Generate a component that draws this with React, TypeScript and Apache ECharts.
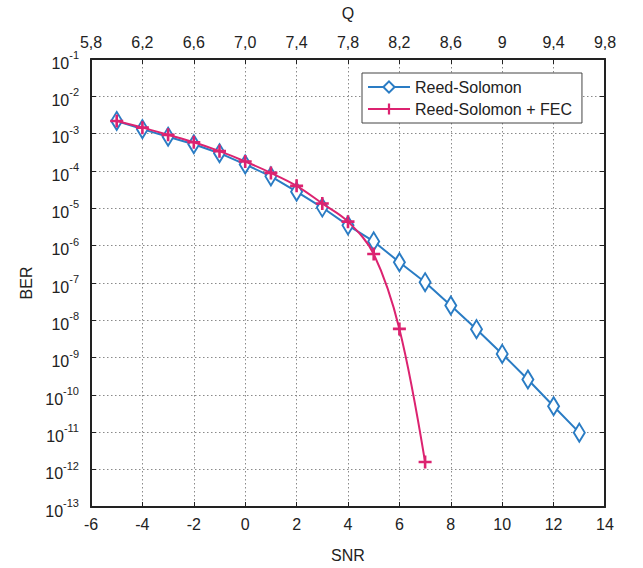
import React, { useEffect, useRef } from "react";
import * as echarts from "echarts";

// SNR values (x) for each series
const rsSnr = [-5, -4, -3, -2, -1, 0, 1, 2, 3, 4, 5, 6, 7, 8, 9, 10, 11, 12, 13];
const rsBer = [
  2.19e-3, 1.32e-3, 8.3e-4, 5.2e-4, 3.0e-4, 1.5e-4, 7.2e-5, 2.8e-5, 1.05e-5, 3.5e-6,
  1.3e-6, 3.6e-7, 1.05e-7, 2.5e-8, 5.8e-9, 1.26e-9, 2.6e-10, 5.0e-11, 9.8e-12,
];
const fecSnr = [-5, -4, -3, -2, -1, 0, 1, 2, 3, 4, 5, 6, 7];
const fecBer = [
  2.19e-3, 1.45e-3, 9.3e-4, 5.9e-4, 3.4e-4, 1.8e-4, 8.9e-5, 4.0e-5, 1.35e-5, 4.4e-6,
  6.0e-7, 5.9e-9, 1.6e-12,
];
const qLabels = ["5,8", "6,2", "6,6", "7,0", "7,4", "7,8", "8,2", "8,6", "9", "9,4", "9,8"];
const seriesNames = ["Reed-Solomon", "Reed-Solomon + FEC"];

const BLUE = "#2a7cc4";
const RED = "#dc2370";
const TEXT = "#222";
const FONT = "Liberation Sans, Arial, sans-serif";

export default function App() {
  const ref = useRef<HTMLDivElement>(null);
  useEffect(() => {
    if (!ref.current) return;
    const chart = echarts.init(ref.current, undefined, { renderer: "svg" });
    const axisLine = { show: true, onZero: false, lineStyle: { color: "#222", width: 2 } };
    const tick = { show: true, inside: true, length: 5, lineStyle: { color: "#222", width: 1 } };
    const grid = { show: true, lineStyle: { color: "#8a8a8a", type: [1.5, 2.5], width: 1 } };
    const supLabel = {
      fontFamily: FONT,
      color: TEXT,
      margin: 12,
      formatter: (v: number) => `{b|10}{s|${Math.round(Math.log10(v))}}`,
      rich: {
        b: { fontSize: 16, fontFamily: FONT, color: TEXT, padding: [8, 0, 0, 0] },
        s: { fontSize: 11, fontFamily: FONT, color: TEXT, padding: [0, 0, 8, 0] },
      },
    };
    chart.setOption({
      animation: false,
      backgroundColor: "#fff",
      textStyle: { fontFamily: FONT },
      grid: { left: 91, top: 57, width: 514, height: 451, containLabel: false },
      legend: {
        orient: "vertical",
        left: 362,
        top: 73,
        padding: [6, 10, 6, 5],
        itemGap: 6,
        itemWidth: 42,
        itemHeight: 14,
        borderColor: "#444",
        borderWidth: 1,
        backgroundColor: "#fff",
        textStyle: { fontSize: 16, color: TEXT, fontFamily: FONT },
        data: seriesNames,
      },
      xAxis: [
        {
          type: "value",
          position: "bottom",
          min: -6,
          max: 14,
          interval: 2,
          name: "SNR",
          nameLocation: "middle",
          nameGap: 40,
          nameTextStyle: { fontSize: 16, color: TEXT, fontFamily: FONT },
          axisLine,
          axisTick: tick,
          splitLine: grid,
          axisLabel: { fontSize: 16, color: TEXT, fontFamily: FONT, margin: 9 },
        },
        {
          type: "category",
          position: "top",
          boundaryGap: false,
          data: qLabels,
          name: "Q",
          nameLocation: "middle",
          nameGap: 38,
          nameTextStyle: { fontSize: 16, color: TEXT, fontFamily: FONT },
          axisLine,
          axisTick: { ...tick, interval: 0 },
          splitLine: { show: false },
          axisLabel: { fontSize: 16, color: TEXT, fontFamily: FONT, margin: 9, interval: 0 },
        },
      ],
      yAxis: [
        {
          type: "log",
          logBase: 10,
          min: 1e-13,
          max: 1e-1,
          interval: 1,
          position: "left",
          name: "BER",
          nameLocation: "middle",
          nameGap: 54,
          nameRotate: 90,
          nameTextStyle: { fontSize: 16, color: TEXT, fontFamily: FONT },
          axisLine,
          axisTick: tick,
          splitLine: grid,
          axisLabel: supLabel,
        },
        {
          type: "log",
          logBase: 10,
          min: 1e-13,
          max: 1e-1,
          interval: 1,
          position: "right",
          axisLine,
          axisTick: tick,
          splitLine: { show: false },
          axisLabel: { show: false },
        },
      ],
      series: [
        {
          name: seriesNames[0],
          type: "line",
          xAxisIndex: 0,
          yAxisIndex: 0,
          data: rsSnr.map((x, i) => [x, rsBer[i]]),
          symbol: "diamond",
          symbolSize: [11, 18],
          lineStyle: { color: BLUE, width: 2 },
          itemStyle: { color: "#ffffff", borderColor: BLUE, borderWidth: 2 },
          z: 2,
        },
        {
          name: seriesNames[1],
          type: "line",
          xAxisIndex: 0,
          yAxisIndex: 0,
          data: fecSnr.map((x, i) => [x, fecBer[i]]),
          smooth: 0.35,
          symbol: "path://M4,0H6V4H10V6H6V10H4V6H0V4H4Z",
          symbolSize: [13, 13],
          lineStyle: { color: RED, width: 2 },
          itemStyle: { color: RED, borderWidth: 0 },
          z: 3,
        },
      ],
    });
    return () => chart.dispose();
  }, []);
  return (
    <div
      ref={ref}
      style={{ position: "fixed", left: 0, top: 0, width: 643, height: 568, background: "#fff" }}
    />
  );
}
